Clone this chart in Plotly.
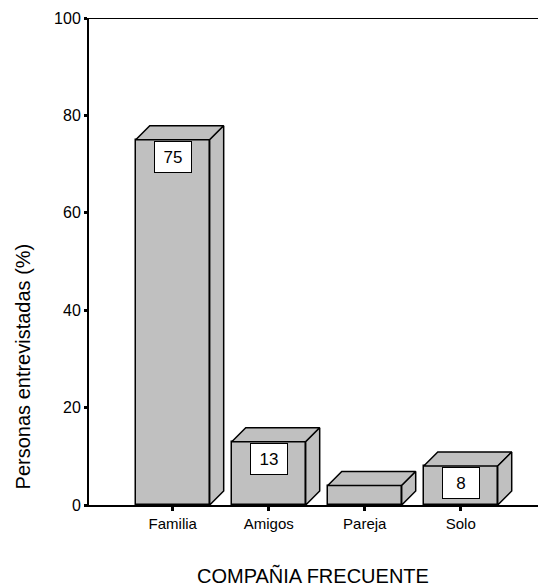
import plotly.graph_objects as go

categories = ["Familia", "Amigos", "Pareja", "Solo"]
values = [75, 13, 4, 8]
value_labels = ["75", "13", "", "8"]
y_ticks = [0, 20, 40, 60, 80, 100]

BAR_W = 0.77
X_RANGE = [-0.872, 3.888]
DX = 14 / 96.0      # depth offset in category units
DY = 14 / 4.88      # depth offset in value units
FILL = "#c0c0c0"
LINE = dict(color="black", width=1.5)
FONT = "Liberation Sans, Arial"

fig = go.Figure()
xs = list(range(len(categories)))

fig.add_trace(go.Bar(
    x=xs, y=values, width=BAR_W,
    marker=dict(color=FILL, line=LINE),
    hoverinfo="skip", showlegend=False,
))

for i, v in zip(xs, values):
    xl, xr = i - BAR_W / 2, i + BAR_W / 2
    # top face
    fig.add_trace(go.Scatter(
        x=[xl, xl + DX, xr + DX, xr, xl],
        y=[v, v + DY, v + DY, v, v],
        mode="lines", fill="toself", fillcolor=FILL, line=LINE,
        hoverinfo="skip", showlegend=False,
    ))
    # side face
    fig.add_trace(go.Scatter(
        x=[xr, xr + DX, xr + DX, xr, xr],
        y=[0, DY, v + DY, v, 0],
        mode="lines", fill="toself", fillcolor=FILL, line=LINE,
        hoverinfo="skip", showlegend=False,
    ))

annotations = []
for i, v, lab in zip(xs, values, value_labels):
    if not lab:
        continue
    annotations.append(dict(
        x=i, y=v, xref="x", yref="y", text=lab, showarrow=False,
        yanchor="top", xanchor="center", yshift=-1,
        font=dict(family=FONT, size=17, color="black"),
        bgcolor="white", bordercolor="black", borderwidth=1, borderpad=1,
        width=34, height=28,
    ))

annotations.append(dict(
    x=0.490, y=-0.144, xref="paper", yref="paper",
    text="COMPAÑIA FRECUENTE", showarrow=False,
    xanchor="center", yanchor="middle",
    font=dict(family=FONT, size=20, color="black"),
))
annotations.append(dict(
    x=-0.144, y=0.285, xref="paper", yref="paper",
    text="Personas entrevistadas (%)", showarrow=False, textangle=-90,
    xanchor="center", yanchor="middle",
    font=dict(family=FONT, size=20, color="black"),
))

fig.update_layout(
    width=538, height=580,
    margin=dict(l=81, r=0, t=10, b=83),
    paper_bgcolor="white", plot_bgcolor="white",
    font=dict(family=FONT, color="black"),
    annotations=annotations,
    shapes=[dict(type="line", xref="paper", yref="y", x0=0, x1=1, y0=100, y1=100,
                 line=dict(color="black", width=2))],
    bargap=0,
)
fig.update_xaxes(
    range=X_RANGE, tickmode="array", tickvals=xs, ticktext=categories,
    showgrid=False, zeroline=False, showline=True, linecolor="black", linewidth=2,
    ticks="outside", ticklen=4, tickwidth=3, tickcolor="black",
    tickfont=dict(size=15, family=FONT),
)
fig.update_yaxes(
    range=[0, 100], tickmode="array", tickvals=y_ticks,
    showgrid=False, zeroline=False, showline=True, linecolor="black", linewidth=2,
    ticks="outside", ticklen=3, tickwidth=3, tickcolor="black",
    tickfont=dict(size=16, family=FONT),
)

fig.write_html("out.html")
